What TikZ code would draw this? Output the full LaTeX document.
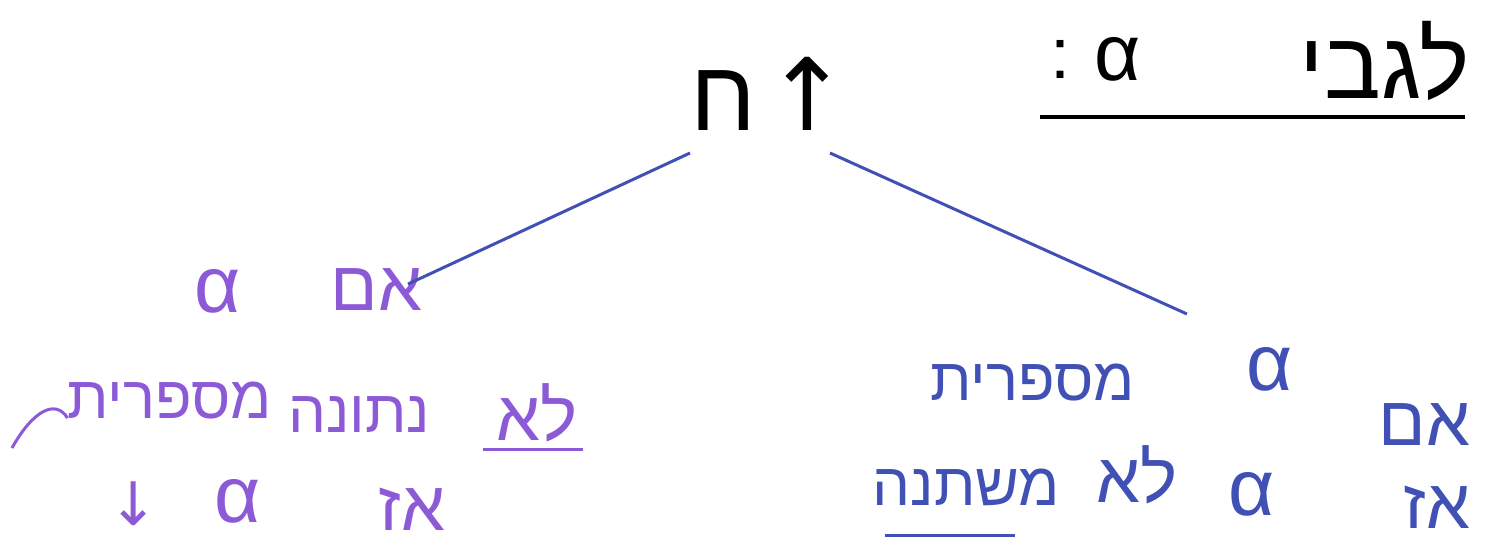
\documentclass[tikz,border=0pt]{standalone}
\usepackage{fontspec}
\setmainfont{Liberation Sans}
\newfontfamily\heb[Script=Hebrew]{Liberation Sans}
\newfontfamily\dv{DejaVu Sans}
\TeXXeTstate=1
\definecolor{pur}{RGB}{140,90,215}
\definecolor{blu}{RGB}{65,80,180}
\begin{document}
\begin{tikzpicture}[x=1pt,y=-1pt,
  every node/.style={inner sep=0pt,outer sep=0pt},
  hw/.style={font=\heb\fontsize{60}{60}\selectfont},
  hwb/.style={font=\heb\fontsize{70}{70}\selectfont},
  ttl/.style={font=\heb\fontsize{95}{95}\selectfont},
  al/.style={font=\fontsize{80}{80}\selectfont},
  arr/.style={font=\dv\fontsize{60}{60}\selectfont},
  pu/.style={text=pur},
  bl/.style={text=blu},
  branch/.style={draw=blu,line width=3pt},
  uline/.style={line width=3pt}]
\useasboundingbox (0,0) rectangle (1491,547);
% title
\node[ttl,anchor=base east] (tw) at (1470,98) {\beginR לגבי\endR};
\node[al,anchor=base] (ta) at (1118,80) {α};
\node[font=\fontsize{72}{72}\selectfont,anchor=base] (tc) at (1060,78) {:};
\draw[uline,line width=3.5pt] (1040,117) -- (1465,117);
% root
\node[anchor=base west,text depth=0pt,font=\heb\fontsize{100}{100}\selectfont] (root) at (690,130) {ח\hspace{10pt}{\dv\fontsize{100}{100}\selectfont ↑}};
% left branch
\node[hwb,pu,anchor=base east] (la1) at (422,310) {\beginR אם\endR};
\node[al,pu,anchor=base] (la2) at (218,312) {α};
\node[hwb,pu,anchor=base east] (lb1) at (578,440) {\beginR לא\endR};
\node[hw,pu,anchor=base east] (lb2) at (430,432) {\beginR נתונה\endR};
\node[hw,pu,anchor=base east] (lb3) at (272,418) {\beginR מספרית\endR};
\node[hwb,pu,anchor=base east] (lc1) at (445,530) {\beginR אז\endR};
\node[al,pu,anchor=base] (lc2) at (238,522) {α};
\node[arr,pu,anchor=base] (lc3) at (134,525) {↓};
\draw[pur,uline] (483,449) -- (583,449);
\draw[pur,line width=3pt] (12,448) .. controls (32,412) and (55,398) .. (lb3.base west);
% right branch
\node[hwb,bl,anchor=base east] (ra1) at (1470,445) {\beginR אם\endR};
\node[al,bl,anchor=base] (ra2) at (1270,390) {α};
\node[hw,bl,anchor=base east] (ra3) at (1135,400) {\beginR מספרית\endR};
\node[hwb,bl,anchor=base east] (rb1) at (1470,528) {\beginR אז\endR};
\node[al,bl,anchor=base] (rb2) at (1252,515) {α};
\node[hwb,bl,anchor=base east] (rb3) at (1178,502) {\beginR לא\endR};
\node[hw,bl,anchor=base east] (rb4) at (1060,505) {\beginR משתנה\endR};
\draw[blu,uline] (885,535) -- (1015,535);
% connectors
\draw[branch] ([yshift=-23pt]root.south west) -- ([shift={(-14,16)}]la1.north east);
\draw[branch] ([xshift=140pt,yshift=-23pt]root.south west) -- ([shift={(-60,-33)}]ra2.north west);
\end{tikzpicture}
\end{document}
